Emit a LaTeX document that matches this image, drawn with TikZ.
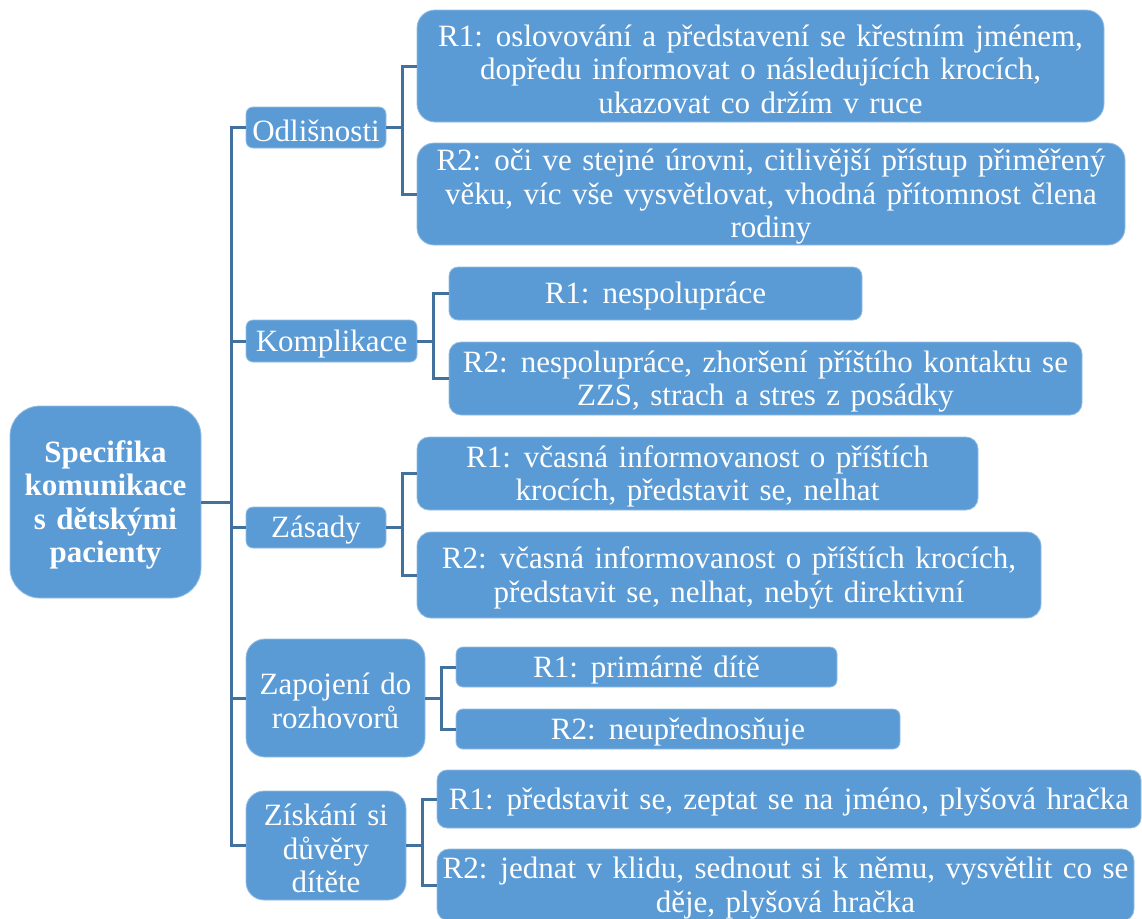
\documentclass[tikz,border=0pt]{standalone}
\usepackage{fontspec}
\setmainfont[WordSpace=1.35]{Liberation Serif}
\definecolor{boxblue}{HTML}{5B9BD5}
\definecolor{linkblue}{HTML}{41719C}
\begin{document}
\begin{tikzpicture}[x=1pt,y=-1pt,
  boxshape/.style={fill=boxblue, draw=boxblue!65!white, line width=0.8pt, inner sep=0pt},
  box/.style={boxshape, label={[boxtext]center:{#1}}},
  rootbox/.style={boxshape, label={[boxtext, font=\fontsize{31}{33.5}\selectfont\bfseries]center:{#1}}},
  boxtext/.style={text=white, align=center, inner sep=0pt, yshift=-3pt,
    font=\fontsize{31}{33.5}\selectfont},
  conn/.style={draw=linkblue, line width=3pt}]
\clip (0,0) rectangle (1142,918);
\fill[white] (0,0) rectangle (1142,918);

% root
\node[rootbox={Specifika\\komunikace\\s dětskými\\pacienty},
  minimum width=191, minimum height=192, rounded corners=30] (root) at (105.5,502) {};

% first level
\node[box={Odlišnosti}, minimum width=140, minimum height=41, rounded corners=7] (odl) at (316,127.5) {};
\node[box={Komplikace}, minimum width=171, minimum height=42, rounded corners=7] (kom) at (331.5,341) {};
\node[box={Zásady}, minimum width=140, minimum height=41, rounded corners=7] (zas) at (316,527.5) {};
\node[box={Zapojení do\\rozhovorů}, minimum width=179, minimum height=118, rounded corners=19] (zap) at (335.5,698) {};
\node[box={Získání si\\důvěry\\dítěte}, minimum width=160, minimum height=109, rounded corners=18] (zis) at (326,845.5) {};

% second level
\node[box={R1: oslovování a představení se křestním jménem,\\dopředu informovat o následujících krocích,\\ukazovat co držím v ruce},
  minimum width=687, minimum height=112, rounded corners=18] (odlA) at (760.5,66) {};
\node[box={R2: oči ve stejné úrovni, citlivější přístup přiměřený\\věku, víc vše vysvětlovat, vhodná přítomnost člena\\rodiny},
  minimum width=708, minimum height=102, rounded corners=17] (odlB) at (771,194) {};
\node[box={R1: nespolupráce},
  minimum width=413, minimum height=53, rounded corners=9] (komA) at (655.5,293.5) {};
\node[box={R2: nespolupráce, zhoršení příštího kontaktu se\\ZZS, strach a stres z posádky},
  minimum width=633, minimum height=73, rounded corners=12] (komB) at (765.5,378.5) {};
\node[box={R1: včasná informovanost o příštích\\krocích, představit se, nelhat},
  minimum width=561, minimum height=73, rounded corners=12] (zasA) at (697.5,473.5) {};
\node[box={R2: včasná informovanost o příštích krocích,\\představit se, nelhat, nebýt direktivní},
  minimum width=624, minimum height=86, rounded corners=14] (zasB) at (729,575) {};
\node[box={R1: primárně dítě},
  minimum width=381, minimum height=40, rounded corners=7] (zapA) at (646.5,667) {};
\node[box={R2: neupřednosňuje},
  minimum width=444, minimum height=40, rounded corners=7] (zapB) at (678,729) {};
\node[box={R1: představit se, zeptat se na jméno, plyšová hračka},
  minimum width=704, minimum height=58, rounded corners=10] (zisA) at (789,799) {};
\node[box={R2: jednat v klidu, sednout si k němu, vysvětlit co se\\děje, plyšová hračka},
  minimum width=697, minimum height=72, rounded corners=12] (zisB) at (785.5,885) {};

% trunk from the root to the first level
\coordinate (trunk) at (231,502);
\foreach \n in {odl,kom,zas,zap,zis}
  \draw[conn] (root.east) -- (trunk) |- (\n.west);

% brackets from the first level to the second
\foreach \n in {odl,kom,zas,zap,zis} {
  \draw[conn] (\n.east) -- ++(16,0) |- (\n A.west);
  \draw[conn] (\n.east) -- ++(16,0) |- (\n B.west);
}
\end{tikzpicture}
\end{document}
